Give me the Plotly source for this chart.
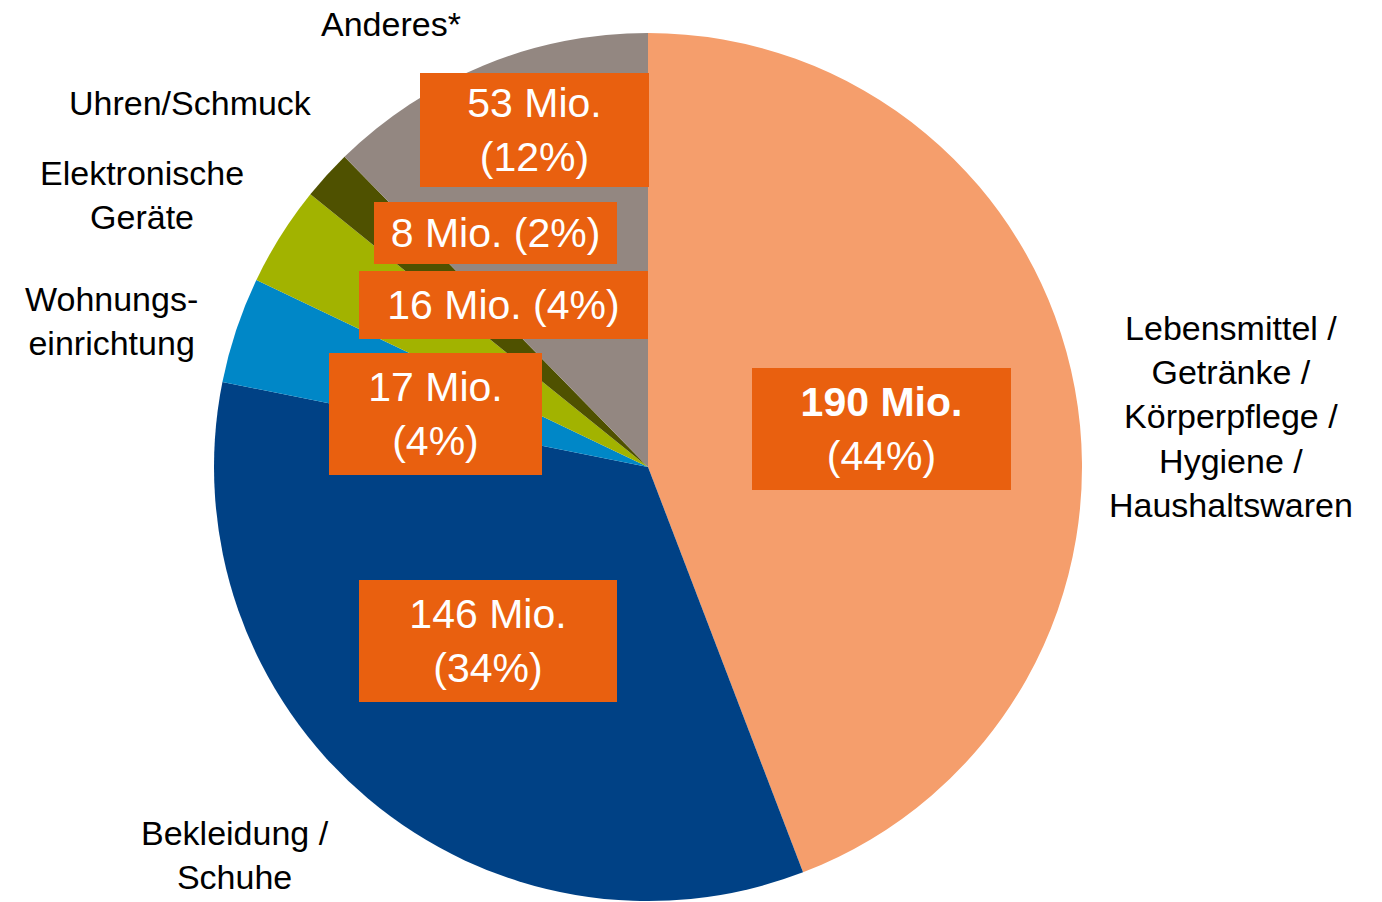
import plotly.graph_objects as go

# Umsatz nach Warengruppen (Mio.), im Uhrzeigersinn ab 12 Uhr
categories = [
    "Lebensmittel /<br>Getränke /<br>Körperpflege /<br>Hygiene /<br>Haushaltswaren",
    "Bekleidung /<br>Schuhe",
    "Wohnungs-<br>einrichtung",
    "Elektronische<br>Geräte",
    "Uhren/Schmuck",
    "Anderes*",
]
values = [190, 146, 17, 16, 8, 53]
shares = [44, 34, 4, 4, 2, 12]
colors = ["#F59E6C", "#004185", "#0087C7", "#A2B300", "#4F5100", "#938781"]

W, H = 1382, 902
cx, cy, r = 648, 467, 434

fig = go.Figure(go.Pie(
    labels=categories,
    values=values,
    sort=False,
    direction="clockwise",
    rotation=0,
    marker=dict(colors=colors, line=dict(width=0)),
    textinfo="none",
    hoverinfo="label+value",
    showlegend=False,
    domain=dict(x=[(cx - r) / W, (cx + r) / W],
                y=[(H - cy - r) / H, (H - cy + r) / H]),
))

def px(x, y):
    return x / W, 1 - y / H

# Wertekästen: (Mittelpunkt x, y, Breite, Höhe, einzeilig?)
box_layout = [
    (881, 429, 259, 122, False),
    (488, 641, 258, 122, False),
    (435, 414, 213, 122, False),
    (503, 305, 289, 68, True),
    (495, 233, 243, 62, True),
    (534, 130, 229, 114, False),
]

annotations = []
for i, (v, s, (bx, by, bw, bh, one_line)) in enumerate(zip(values, shares, box_layout)):
    head = f"{v} Mio."
    if i == 0:
        head = f"<b>{head}</b>"
    sep = " " if one_line else "<br>"
    x, y = px(bx, by)
    annotations.append(dict(
        x=x, y=y, xref="paper", yref="paper", xanchor="center", yanchor="middle",
        text=f"{head}{sep}({s}%)", showarrow=False,
        font=dict(family="Liberation Sans, Arial", size=41, color="white"),
        bgcolor="#E9600F", width=bw, height=bh, borderpad=0, borderwidth=0,
        align="center", valign="middle",
    ))

# Beschriftung der Warengruppen außerhalb des Kreises
label_pos = [(1231, 416), (235, 855), (111, 321), (142, 195), (191, 103), (391, 24)]
for name, (lx, ly) in zip(categories, label_pos):
    x, y = px(lx, ly)
    annotations.append(dict(
        x=x, y=y, xref="paper", yref="paper", xanchor="center", yanchor="middle",
        text=name, showarrow=False, align="center",
        font=dict(family="Liberation Sans, Arial", size=34, color="black"),
    ))

fig.update_layout(
    width=W, height=H,
    margin=dict(l=0, r=0, t=0, b=0),
    paper_bgcolor="white", plot_bgcolor="white",
    annotations=annotations,
)

fig.write_html("out.html")
